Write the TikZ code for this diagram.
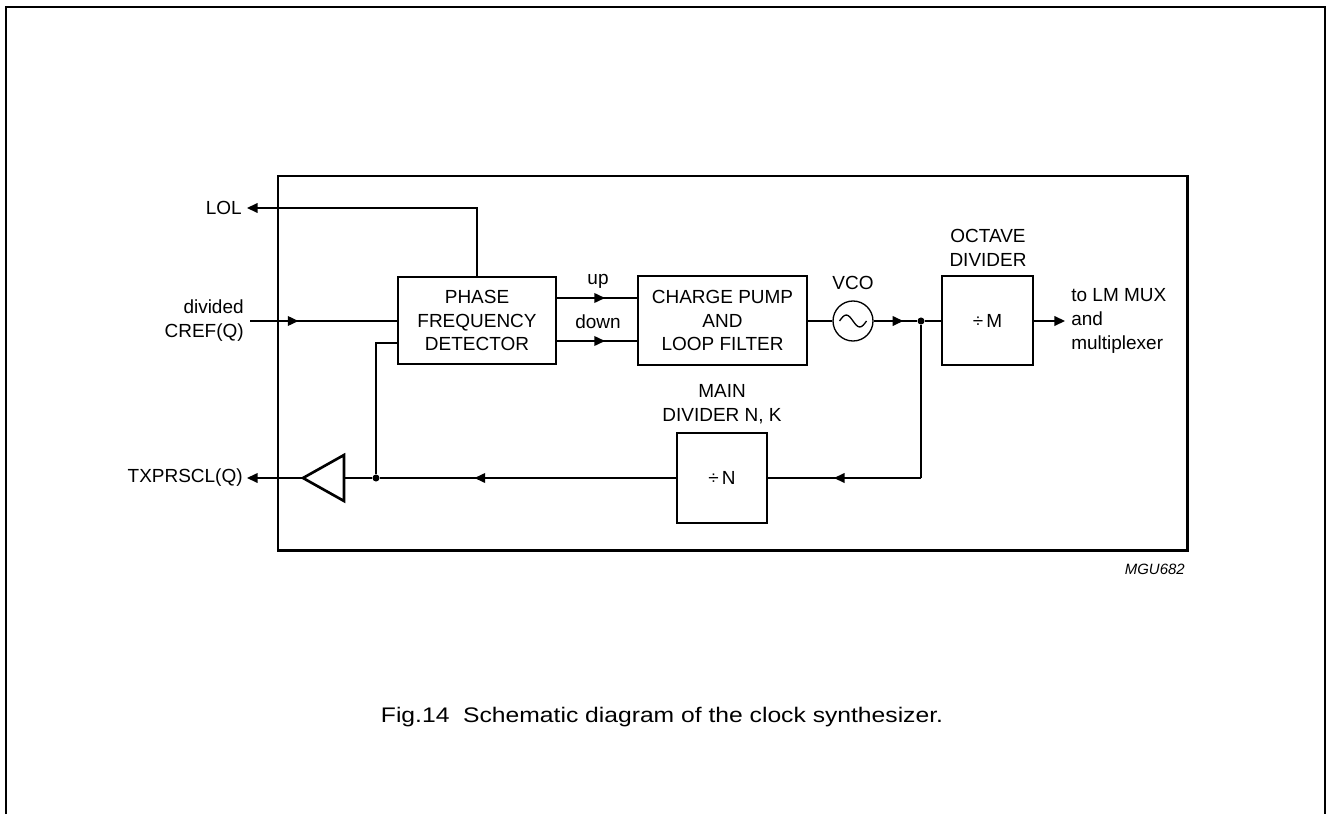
\documentclass[tikz,border=0pt]{standalone}
\usepackage{fontspec}
\setmainfont{Liberation Sans}
\usetikzlibrary{arrows.meta,decorations.markings}
\begin{document}
\begin{tikzpicture}[x=0.02cm,y=-0.02cm,
  font=\fontsize{10.8}{13.6}\selectfont,
  blk/.style={draw,line width=1.5pt,minimum width=#1,inner sep=0pt,align=center},
  wire/.style={line width=0.75pt},
  tip/.style={-{Triangle[length=6pt,width=5.5pt]}},
  marrow/.style={postaction={decorate},decoration={markings,mark=at position #1 with {\arrow{Triangle[length=6pt,width=5.5pt]}}}},
  dot/.style={circle,fill,inner sep=0pt,minimum size=4pt},
  lbl/.style={inner sep=0pt,align=center}]
\useasboundingbox (0,0) rectangle (1327,814);
% page frame
\draw[line width=1.1pt] (6,814) -- (6,7) -- (1325,7) -- (1325,814);
% inner frame
\draw[line width=1.7pt] (278,176) rectangle (1187,550);
% blocks
\node[blk=3.16cm,minimum height=1.74cm] (pfd) at (477,320.5) {PHASE\\FREQUENCY\\DETECTOR};
\node[blk=3.38cm,minimum height=1.78cm] (cp) at (722.5,320.5) {CHARGE PUMP\\AND\\LOOP FILTER};
\node[draw,circle,line width=0.75pt,minimum size=0.8cm,inner sep=0pt] (vco) at (853,321) {};
\draw[line width=0.75pt] ([xshift=-0.27cm]vco.center) sin ([xshift=-0.135cm,yshift=0.12cm]vco.center) cos (vco.center) sin ([xshift=0.135cm,yshift=-0.12cm]vco.center) cos ([xshift=0.27cm]vco.center);
\node[blk=1.82cm,minimum height=1.78cm] (oct) at (987.5,320.5) {÷\,M};
\node[blk=1.8cm,minimum height=1.8cm] (divn) at (722,478) {÷\,N};
% buffer
\coordinate (buftip) at (303,478);
\coordinate (bufin) at (344,478);
\draw[line width=1.5pt,line join=miter] (buftip) -- (344,455) -- (344,501) -- cycle;
% junctions
\node[dot] (j1) at (921,321) {};
\node[dot] (j2) at (376,478) {};
\coordinate (jc) at (921,478);
% external ends
\coordinate (lolend) at (247,208);
\coordinate (crefst) at (250,321);
\coordinate (txend) at (247,478);
\coordinate (outend) at (1065,321);
% labels
\node[lbl,anchor=east] (lol) at (242,208) {LOL};
\node[lbl,anchor=east,align=right] (cref) at (244,321) {divided\\CREF(Q)};
\node[lbl,anchor=east] (tx) at (243,478) {TXPRSCL(Q)};
\node[lbl] (uplbl) at (598,281) {up};
\node[lbl] (dnlbl) at (598,322) {down};
\node[lbl] (vcolbl) at (853,283) {VCO};
\node[lbl] (octlbl) at (988,248) {OCTAVE\\DIVIDER};
\node[lbl] (mainlbl) at (722,404) {MAIN\\DIVIDER N, K};
\node[lbl,anchor=west,align=left] (outlbl) at (1071,321) {to LM MUX\\and\\multiplexer};
\node[lbl,anchor=east,font=\fontsize{8.5}{10}\selectfont\itshape] (mgu) at (1185,569) {MGU682};
\node[lbl,font=\fontsize{12}{14}\selectfont] (cap) at (662,717) {\scalebox{1.17}[1]{Fig.14\ \ Schematic diagram of the clock synthesizer.}};
% wires
\draw[wire,tip] (pfd.north) |- (lolend);
\draw[wire,marrow=0.33] (crefst) -- (pfd.west |- crefst);
\draw[wire] (j2) |- (pfd.west |- 0,343);
\draw[wire,marrow=0.6] (pfd.east |- 0,298) -- (cp.west |- 0,298);
\draw[wire,marrow=0.6] (pfd.east |- 0,341) -- (cp.west |- 0,341);
\draw[wire] (cp.east |- vco) -- (vco.west);
\draw[wire,marrow=0.68] (vco.east) -- (j1);
\draw[wire] (j1) -- (oct.west |- j1);
\draw[wire,tip] (oct.east |- outend) -- (outend);
\draw[wire] (j1) -- (jc);
\draw[wire,marrow=0.57] (jc) -- (divn.east |- jc);
\draw[wire,marrow=0.68] (divn.west |- jc) -- (j2);
\draw[wire] (j2) -- (bufin);
\draw[wire,tip] (buftip) -- (txend);
\end{tikzpicture}
\end{document}
